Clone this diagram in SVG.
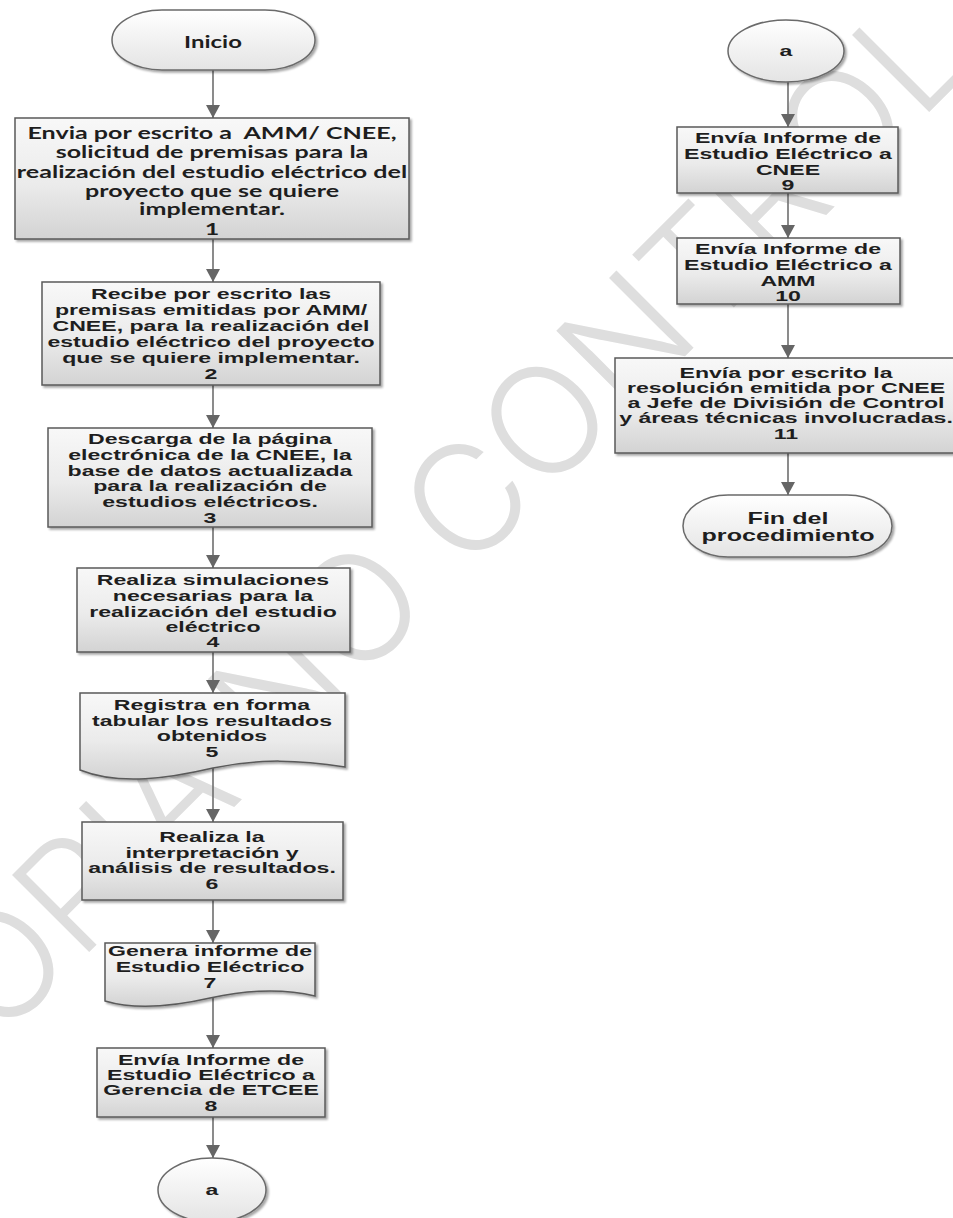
<svg xmlns="http://www.w3.org/2000/svg" width="953" height="1218" viewBox="0 0 953 1218">
<defs>
<linearGradient id="gBox" x1="0" y1="0" x2="0" y2="1">
<stop offset="0" stop-color="#f8f8f8"/>
<stop offset="0.55" stop-color="#ebebeb"/>
<stop offset="1" stop-color="#d3d3d3"/>
</linearGradient>
<linearGradient id="gTerm" x1="0" y1="0" x2="0" y2="1">
<stop offset="0" stop-color="#ffffff"/>
<stop offset="1" stop-color="#e4e4e4"/>
</linearGradient>
<filter id="sh" x="-5%" y="-5%" width="115%" height="125%">
<feDropShadow dx="2" dy="2" stdDeviation="1.2" flood-color="#000" flood-opacity="0.35"/>
</filter>
<marker id="arr" viewBox="0 0 13 14" refX="13" refY="7" markerWidth="13" markerHeight="14" markerUnits="userSpaceOnUse" orient="auto">
<path d="M0,0 L13,7 L0,14 Z" fill="#666666"/>
</marker>
</defs>
<style>
.box{fill:url(#gBox);stroke:#5a5a5a;stroke-width:1.5;filter:url(#sh)}
.term{fill:url(#gTerm);stroke:#6a6a6a;stroke-width:1.5;filter:url(#sh)}
.t{font-family:"Liberation Sans",Arial,sans-serif;font-weight:bold;font-size:15px;fill:#1e1e1e;text-anchor:middle}
.tc{font-family:Lato,"Open Sans",sans-serif;font-weight:bold;font-size:16.5px;fill:#1e1e1e;text-anchor:middle}
.tf{font-family:"Liberation Sans",Arial,sans-serif;font-weight:bold;font-size:16px;fill:#1e1e1e;text-anchor:middle}
.con line{stroke:#6f6f6f;stroke-width:1.6;fill:none;marker-end:url(#arr)}
.wm{font-family:Inter,"Open Sans",Lato,sans-serif;font-weight:300;font-size:150px;fill:#dedede}
</style>
<rect x="0" y="0" width="953" height="1218" fill="#ffffff"/>
<g id="watermark">
<text class="wm" transform="translate(520,445) rotate(-45)" x="0" y="54" text-anchor="middle">COPIA NO CONTROLADA</text>
</g>
<g id="connectors" class="con">
<line x1="213" y1="70" x2="213" y2="118"/>
<line x1="213" y1="239" x2="213" y2="282"/>
<line x1="213" y1="385" x2="213" y2="428"/>
<line x1="213" y1="527" x2="213" y2="568"/>
<line x1="213" y1="652" x2="213" y2="693"/>
<line x1="213" y1="768" x2="213" y2="822"/>
<line x1="213" y1="900" x2="213" y2="943"/>
<line x1="213" y1="998" x2="213" y2="1048"/>
<line x1="213" y1="1117" x2="213" y2="1158"/>
<line x1="788" y1="82" x2="788" y2="127"/>
<line x1="788" y1="193" x2="788" y2="238"/>
<line x1="788" y1="304" x2="788" y2="358"/>
<line x1="788" y1="453" x2="788" y2="495"/>
</g>
<g id="inicio">
<rect class="term" x="112" y="10" width="203" height="60" rx="50" ry="30"/>
<g transform="translate(213,0) scale(1.45,1)"><text class="tc" x="0" y="48">Inicio</text></g>
</g>
<g id="n1">
<rect class="box" x="15" y="118" width="394" height="121"/>
<g transform="translate(212,0) scale(1.52,1)">
<text class="tc" x="0" y="139" xml:space="preserve">Envia por escrito a  AMM/ CNEE,</text>
<text class="tc" x="0" y="158">solicitud de premisas para la</text>
<text class="tc" x="0" y="178">realización del estudio eléctrico del</text>
<text class="tc" x="0" y="197">proyecto que se quiere</text>
<text class="tc" x="0" y="215">implementar.</text>
<text class="tc" x="0" y="235">1</text>
</g>
</g>
<g id="n2">
<rect class="box" x="42" y="282" width="338" height="103"/>
<g transform="translate(211,0) scale(1.54,1)">
<text class="t" x="0" y="299">Recibe por escrito las</text>
<text class="t" x="0" y="315">premisas emitidas por AMM/</text>
<text class="t" x="0" y="331">CNEE, para la realización del</text>
<text class="t" x="0" y="347">estudio eléctrico del proyecto</text>
<text class="t" x="0" y="363">que se quiere implementar.</text>
<text class="t" x="0" y="379">2</text>
</g>
</g>
<g id="n3">
<rect class="box" x="48" y="428" width="324" height="99"/>
<g transform="translate(210,0) scale(1.54,1)">
<text class="t" x="0" y="444">Descarga de la página</text>
<text class="t" x="0" y="460">electrónica de la CNEE, la</text>
<text class="t" x="0" y="476">base de datos actualizada</text>
<text class="t" x="0" y="491">para la realización de</text>
<text class="t" x="0" y="507">estudios eléctricos.</text>
<text class="t" x="0" y="523">3</text>
</g>
</g>
<g id="n4">
<rect class="box" x="77" y="568" width="273" height="84"/>
<g transform="translate(213,0) scale(1.54,1)">
<text class="t" x="0" y="585">Realiza simulaciones</text>
<text class="t" x="0" y="601">necesarias para la</text>
<text class="t" x="0" y="617">realización del estudio</text>
<text class="t" x="0" y="632">eléctrico</text>
<text class="t" x="0" y="647">4</text>
</g>
</g>
<g id="n5">
<path class="box" d="M80,693 H345 V767 C300,760 260,758 213,768 C170,778 120,786 80,770 Z"/>
<g transform="translate(212,0) scale(1.54,1)">
<text class="t" x="0" y="710">Registra en forma</text>
<text class="t" x="0" y="726">tabular los resultados</text>
<text class="t" x="0" y="741">obtenidos</text>
<text class="t" x="0" y="757">5</text>
</g>
</g>
<g id="n6">
<rect class="box" x="82" y="822" width="261" height="78"/>
<g transform="translate(212,0) scale(1.54,1)">
<text class="t" x="0" y="842">Realiza la</text>
<text class="t" x="0" y="858">interpretación y</text>
<text class="t" x="0" y="873">análisis de resultados.</text>
<text class="t" x="0" y="889">6</text>
</g>
</g>
<g id="n7">
<path class="box" d="M105,943 H315 V996 C290,990 255,988 210,998 C175,1006 135,1010 105,1001 Z"/>
<g transform="translate(210,0) scale(1.54,1)">
<text class="t" x="0" y="956">Genera informe de</text>
<text class="t" x="0" y="972">Estudio Eléctrico</text>
<text class="t" x="0" y="988">7</text>
</g>
</g>
<g id="n8">
<rect class="box" x="97" y="1048" width="228" height="69"/>
<g transform="translate(211,0) scale(1.54,1)">
<text class="t" x="0" y="1065">Envía Informe de</text>
<text class="t" x="0" y="1080">Estudio Eléctrico a</text>
<text class="t" x="0" y="1095">Gerencia de ETCEE</text>
<text class="t" x="0" y="1111">8</text>
</g>
</g>
<g id="conn-a-out">
<ellipse class="term" cx="212" cy="1190" rx="54" ry="32"/>
<g transform="translate(212,0) scale(1.54,1)"><text class="t" x="0" y="1195">a</text></g>
</g>
<g id="conn-a-in">
<ellipse class="term" cx="786" cy="51" rx="58" ry="31"/>
<g transform="translate(786,0) scale(1.54,1)"><text class="t" x="0" y="56">a</text></g>
</g>
<g id="n9">
<rect class="box" x="677" y="127" width="221" height="66"/>
<g transform="translate(788,0) scale(1.54,1)">
<text class="t" x="0" y="143">Envía Informe de</text>
<text class="t" x="0" y="159">Estudio Eléctrico a</text>
<text class="t" x="0" y="175">CNEE</text>
<text class="t" x="0" y="190">9</text>
</g>
</g>
<g id="n10">
<rect class="box" x="677" y="238" width="223" height="66"/>
<g transform="translate(788,0) scale(1.54,1)">
<text class="t" x="0" y="254">Envía Informe de</text>
<text class="t" x="0" y="270">Estudio Eléctrico a</text>
<text class="t" x="0" y="286">AMM</text>
<text class="t" x="0" y="301">10</text>
</g>
</g>
<g id="n11">
<rect class="box" x="615" y="358" width="346" height="95"/>
<g transform="translate(786,0) scale(1.54,1)">
<text class="t" x="0" y="378">Envía por escrito la</text>
<text class="t" x="0" y="393">resolución emitida por CNEE</text>
<text class="t" x="0" y="408">a Jefe de División de Control</text>
<text class="t" x="0" y="423">y áreas técnicas involucradas.</text>
<text class="t" x="0" y="439">11</text>
</g>
</g>
<g id="fin">
<rect class="term" x="683" y="495" width="209" height="62" rx="45" ry="31"/>
<g transform="translate(788,0) scale(1.57,1)">
<text class="tf" x="0" y="524">Fin del</text>
<text class="tf" x="0" y="541">procedimiento</text>
</g>
</g>
</svg>
